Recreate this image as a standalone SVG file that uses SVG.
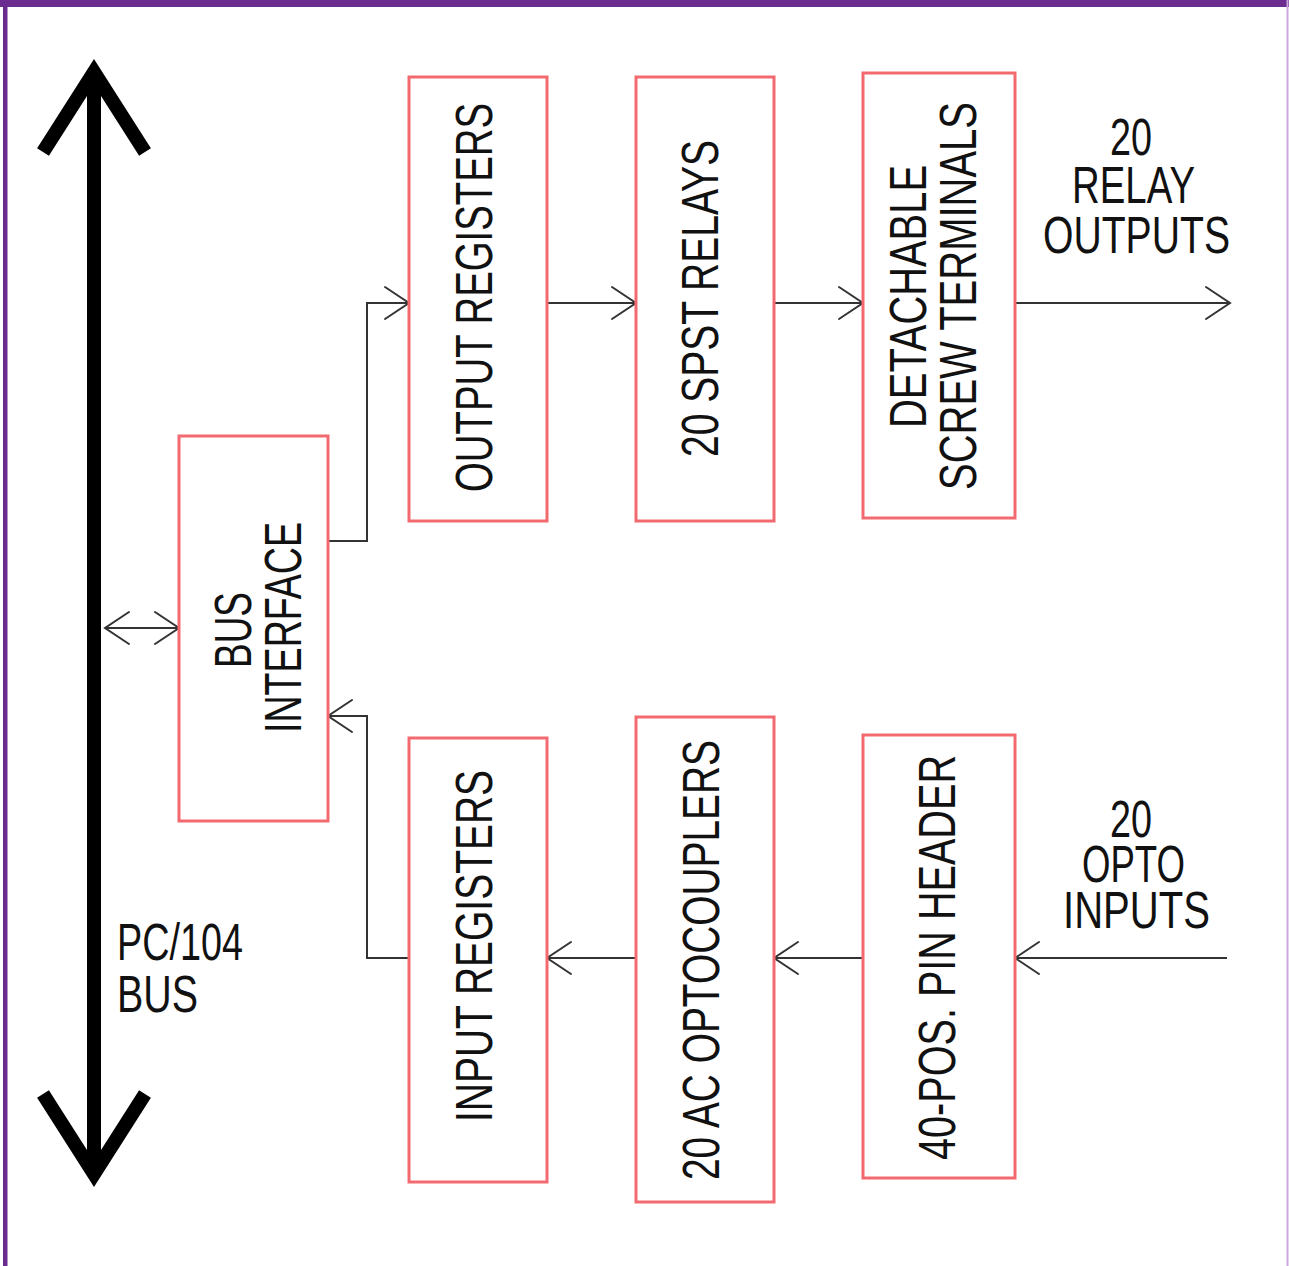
<svg xmlns="http://www.w3.org/2000/svg" width="1289" height="1266" viewBox="0 0 1289 1266">
<defs>
<style>
.box{fill:#fff;stroke:#f26a70;stroke-width:3}
.lbl{font-family:"Liberation Sans",Arial,sans-serif;font-size:51px;fill:#111}
.con{fill:none;stroke:#333;stroke-width:2}
.bus{fill:none;stroke:#000;stroke-width:14;stroke-linejoin:miter;stroke-miterlimit:10}
</style>
<marker id="arr" viewBox="-27 -19 30 38" markerWidth="30" markerHeight="38" refX="0" refY="0" markerUnits="userSpaceOnUse" orient="auto-start-reverse">
<path d="M-24,-16 L0,0 L-24,16" fill="none" stroke="#333" stroke-width="2" stroke-linecap="round" stroke-linejoin="miter"/>
</marker>
</defs>
<rect x="0" y="0" width="1289" height="1266" fill="#fff"/>
<rect x="0" y="0" width="1289" height="7" fill="#6a2c8e"/>
<rect x="3" y="0" width="4.5" height="1266" fill="#6a2c8e"/>
<rect x="1286.5" y="0" width="2" height="1266" fill="#c9a7dd"/>

<g id="pc104-bus">
<path class="bus" d="M94,80 V1166"/>
<polyline class="bus" points="43,152 94,72 145,152"/>
<polyline class="bus" points="43,1094 94,1174 145,1094"/>
<text class="lbl" x="117" y="960" textLength="126" lengthAdjust="spacingAndGlyphs">PC/104</text>
<text class="lbl" x="117" y="1012" textLength="81" lengthAdjust="spacingAndGlyphs">BUS</text>
</g>

<g id="connectors">
<line class="con" x1="105" y1="628" x2="179" y2="628" marker-start="url(#arr)" marker-end="url(#arr)"/>
<polyline class="con" points="328,541 367,541 367,303 409,303" marker-end="url(#arr)"/>
<line class="con" x1="547" y1="303" x2="636" y2="303" marker-end="url(#arr)"/>
<line class="con" x1="774" y1="303" x2="863" y2="303" marker-end="url(#arr)"/>
<line class="con" x1="1015" y1="303" x2="1230" y2="303" marker-end="url(#arr)"/>
<line class="con" x1="1227" y1="958" x2="1015" y2="958" marker-end="url(#arr)"/>
<line class="con" x1="863" y1="958" x2="774" y2="958" marker-end="url(#arr)"/>
<line class="con" x1="636" y1="958" x2="547" y2="958" marker-end="url(#arr)"/>
<polyline class="con" points="409,958 367,958 367,716 328,716" marker-end="url(#arr)"/>
</g>

<g id="bus-interface">
<rect class="box" x="179" y="436" width="149" height="385"/>
<text class="lbl" transform="translate(251,668) rotate(-90)" textLength="76" lengthAdjust="spacingAndGlyphs">BUS</text>
<text class="lbl" transform="translate(301,733) rotate(-90)" textLength="211" lengthAdjust="spacingAndGlyphs">INTERFACE</text>
</g>

<g id="output-registers">
<rect class="box" x="409" y="77" width="138" height="444"/>
<text class="lbl" transform="translate(492,492) rotate(-90)" textLength="389" lengthAdjust="spacingAndGlyphs">OUTPUT REGISTERS</text>
</g>

<g id="spst-relays">
<rect class="box" x="636" y="77" width="138" height="444"/>
<text class="lbl" transform="translate(718,457) rotate(-90)" textLength="317" lengthAdjust="spacingAndGlyphs">20 SPST RELAYS</text>
</g>

<g id="screw-terminals">
<rect class="box" x="863" y="73" width="152" height="445"/>
<text class="lbl" transform="translate(926,428) rotate(-90)" textLength="263" lengthAdjust="spacingAndGlyphs">DETACHABLE</text>
<text class="lbl" transform="translate(976,490) rotate(-90)" textLength="388" lengthAdjust="spacingAndGlyphs">SCREW TERMINALS</text>
</g>

<g id="relay-outputs-label">
<text class="lbl" x="1110" y="155" textLength="42" lengthAdjust="spacingAndGlyphs">20</text>
<text class="lbl" x="1072" y="203" textLength="123" lengthAdjust="spacingAndGlyphs">RELAY</text>
<text class="lbl" x="1043" y="253" textLength="187" lengthAdjust="spacingAndGlyphs">OUTPUTS</text>
</g>

<g id="input-registers">
<rect class="box" x="409" y="738" width="138" height="444"/>
<text class="lbl" transform="translate(492,1122) rotate(-90)" textLength="352" lengthAdjust="spacingAndGlyphs">INPUT REGISTERS</text>
</g>

<g id="ac-optocouplers">
<rect class="box" x="636" y="717" width="138" height="485"/>
<text class="lbl" transform="translate(719,1180) rotate(-90)" textLength="440" lengthAdjust="spacingAndGlyphs">20 AC OPTOCOUPLERS</text>
</g>

<g id="pin-header">
<rect class="box" x="863" y="735" width="152" height="443"/>
<text class="lbl" transform="translate(955,1160) rotate(-90)" textLength="405" lengthAdjust="spacingAndGlyphs">40-POS. PIN HEADER</text>
</g>

<g id="opto-inputs-label">
<text class="lbl" x="1110" y="837" textLength="42" lengthAdjust="spacingAndGlyphs">20</text>
<text class="lbl" x="1082" y="882" textLength="103" lengthAdjust="spacingAndGlyphs">OPTO</text>
<text class="lbl" x="1063" y="928" textLength="147" lengthAdjust="spacingAndGlyphs">INPUTS</text>
</g>
</svg>
